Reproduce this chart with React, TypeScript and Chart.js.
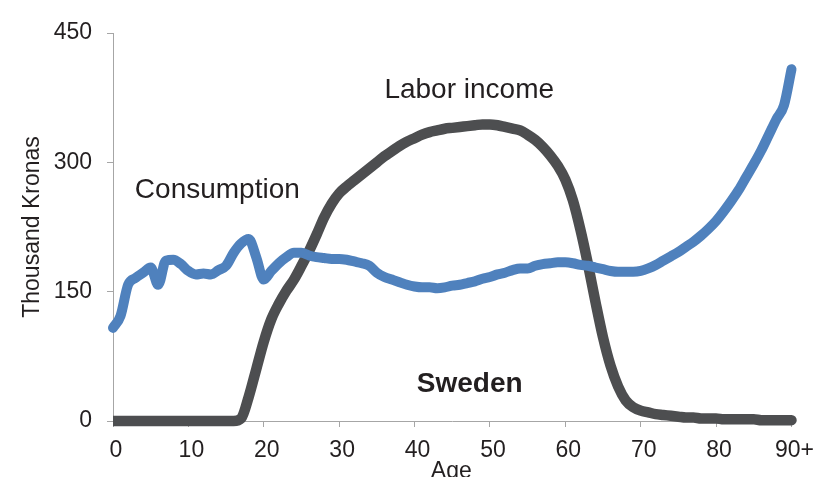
import React, { useEffect, useRef } from "react";
import { Chart, registerables } from "chart.js";

Chart.register(...registerables);

const ages = [
  0, 1, 2, 3, 4, 5, 6, 7, 8, 9, 10, 11, 12, 13, 14, 15, 16, 17, 18, 19, 20,
  21, 22, 23, 24, 25, 26, 27, 28, 29, 30, 31, 32, 33, 34, 35, 36, 37, 38, 39, 40,
  41, 42, 43, 44, 45, 46, 47, 48, 49, 50, 51, 52, 53, 54, 55, 56, 57, 58, 59, 60,
  61, 62, 63, 64, 65, 66, 67, 68, 69, 70, 71, 72, 73, 74, 75, 76, 77, 78, 79, 80,
  81, 82, 83, 84, 85, 86, 87, 88, 89, 90,
];

const consumption = [
  108, 122, 158, 166, 172, 178, 158, 186, 187, 182, 174, 170, 171, 170, 175, 180, 195, 206, 211, 190, 164,
  174, 183, 190, 195, 195, 192, 190, 189, 188, 188, 187, 185, 183, 180, 172, 167, 164, 161, 158, 156,
  155, 155, 154, 155, 157, 158, 160, 162, 165, 167, 170, 172, 175, 177, 177, 180, 182, 183, 184, 184,
  183, 181, 180, 178, 176, 174, 173, 173, 173, 174, 177, 181, 186, 191, 196, 202, 208, 215, 223, 232,
  243, 255, 268, 283, 298, 314, 332, 350, 366, 408,
];

const laborIncome = [
  0, 0, 0, 0, 0, 0, 0, 0, 0, 0, 0, 0, 0, 0, 0, 0, 0, 3, 28, 60, 92,
  118, 136, 151, 164, 180, 197, 216, 236, 252, 264, 272, 279, 286, 293, 300, 307, 313, 319, 324, 328,
  332, 335, 337, 339, 340, 341, 342, 343, 344, 344, 343, 341, 339, 337, 332, 326, 318, 308, 296, 280,
  256, 222, 182, 138, 97, 64, 40, 24, 16, 12, 10, 8, 7, 6, 5, 4, 4, 3, 3, 3,
  2, 2, 2, 2, 2, 1, 1, 1, 1, 1,
];

const xTicks = [0, 10, 20, 30, 40, 50, 60, 70, 80, 90];
const xTickLabels = ["0", "10", "20", "30", "40", "50", "60", "70", "80", "90+"];
const yTicks = [0, 150, 300, 450];

const FONT = "'Liberation Sans', Arial, sans-serif";
const TEXT = "#231F20";
const AXIS = "#A6A6A6";

const textPlugin = {
  id: "annotations",
  afterDraw(chart: any) {
    const { ctx, chartArea, scales } = chart;
    const xs = scales.x;
    const ys = scales.y;
    ctx.save();
    ctx.fillStyle = TEXT;
    ctx.textBaseline = "alphabetic";

    ctx.font = `28px ${FONT}`;
    ctx.textAlign = "left";
    ctx.fillText("Consumption", xs.getPixelForValue(2.9), ys.getPixelForValue(259));
    ctx.fillText("Labor income", xs.getPixelForValue(36.0), ys.getPixelForValue(374.5));

    ctx.font = `bold 28px ${FONT}`;
    ctx.fillText("Sweden", xs.getPixelForValue(40.3), ys.getPixelForValue(33.6));

    ctx.font = `23px ${FONT}`;
    ctx.textAlign = "center";
    ctx.fillText("Age", (chartArea.left + chartArea.right) / 2 - 1, chartArea.bottom + 57);

    ctx.translate(39, (chartArea.top + chartArea.bottom) / 2);
    ctx.rotate(-Math.PI / 2);
    ctx.fillText("Thousand Kronas", 0, 0);
    ctx.restore();
  },
};

export default function App() {
  const ref = useRef<HTMLCanvasElement | null>(null);

  useEffect(() => {
    if (!ref.current) return;
    const chart = new Chart(ref.current, {
      type: "line",
      data: {
        datasets: [
          {
            label: "Labor income",
            data: ages.map((a, i) => ({ x: a, y: laborIncome[i] })),
            borderColor: "#4D4E50",
            borderWidth: 10.5,
            borderCapStyle: "round",
            borderJoinStyle: "round",
            pointRadius: 0,
            cubicInterpolationMode: "monotone",
            clip: { left: 0, top: false, right: false, bottom: false } as any,
            order: 2,
          },
          {
            label: "Consumption",
            data: ages.map((a, i) => ({ x: a, y: consumption[i] })),
            borderColor: "#4F81BD",
            borderWidth: 10,
            borderCapStyle: "round",
            borderJoinStyle: "round",
            pointRadius: 0,
            cubicInterpolationMode: "monotone",
            clip: false as any,
            order: 1,
          },
        ],
      },
      options: {
        animation: false,
        responsive: false,
        devicePixelRatio: 1,
        layout: { padding: { left: 0, top: 33, right: 27, bottom: 0 } },
        plugins: { legend: { display: false }, tooltip: { enabled: false } },
        scales: {
          x: {
            type: "linear",
            min: 0,
            max: 90,
            afterBuildTicks: (scale: any) => {
              scale.ticks = xTicks.map((v) => ({ value: v }));
            },
            afterFit: (scale: any) => {
              scale.height = 56;
            },
            ticks: {
              autoSkip: false,
              maxRotation: 0,
              padding: 10,
              labelOffset: 3,
              color: TEXT,
              font: { family: FONT, size: 23 },
              callback: (v: any) => xTickLabels[xTicks.indexOf(Number(v))] ?? "",
            },
            grid: { drawOnChartArea: false, drawTicks: true, tickLength: 6, color: AXIS },
            border: { display: true, color: AXIS, width: 1 },
          },
          y: {
            type: "linear",
            min: 0,
            max: 450,
            afterBuildTicks: (scale: any) => {
              scale.ticks = yTicks.map((v) => ({ value: v }));
            },
            afterFit: (scale: any) => {
              scale.width = 113;
            },
            ticks: {
              padding: 15,
              color: TEXT,
              font: { family: FONT, size: 23 },
            },
            grid: { drawOnChartArea: false, drawTicks: true, tickLength: 6, color: AXIS },
            border: { display: true, color: AXIS, width: 1 },
          },
        },
      },
      plugins: [textPlugin],
    });
    return () => chart.destroy();
  }, []);

  return (
    <div style={{ position: "absolute", left: 0, top: 0, width: 821, height: 477, background: "#fff" }}>
      <canvas ref={ref} width={821} height={477} style={{ display: "block" }} />
    </div>
  );
}
